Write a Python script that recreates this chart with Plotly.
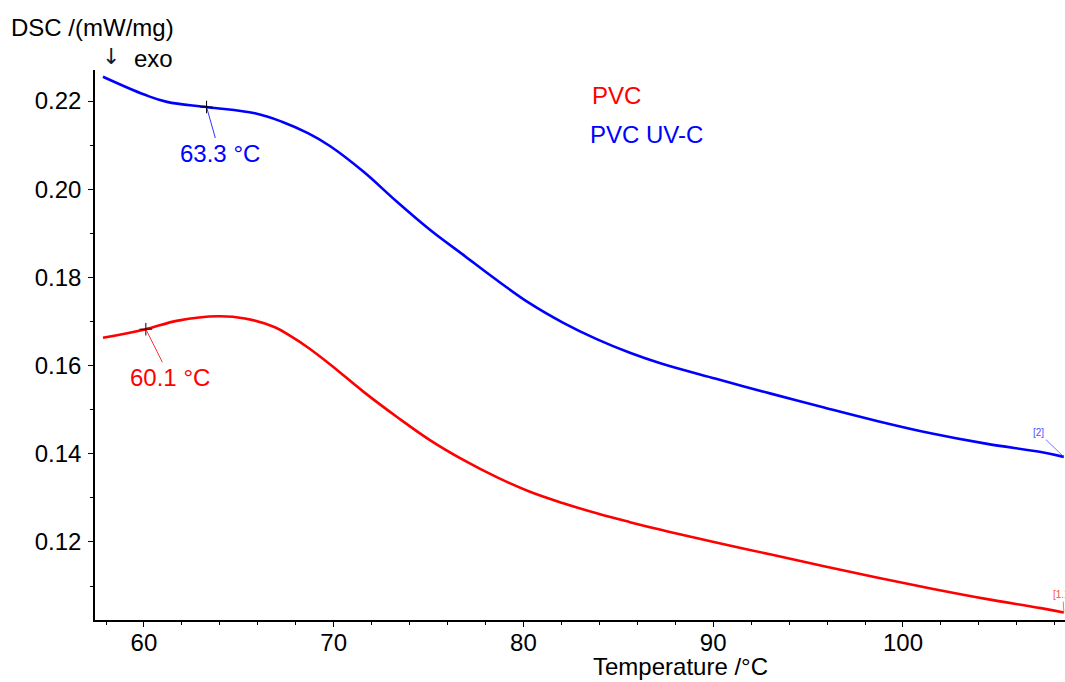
import numpy as np
import plotly.graph_objects as go

# PVC UV-C (blue)
t_uvc = [57.84, 60.05, 61.21, 63.37, 65.85, 67.27, 68.64, 69.80, 71.56, 73.32, 75.07,
         76.83, 78.59, 80.34, 82.10, 83.86, 85.61, 87.30, 90.15, 92.99, 95.84, 98.68,
         101.53, 104.37, 107.27, 108.48]
dsc_uvc = [0.2255, 0.2214, 0.2198, 0.2186, 0.2172, 0.2153, 0.2127, 0.2098, 0.2040, 0.1972,
           0.1908, 0.1851, 0.1794, 0.1741, 0.1697, 0.1660, 0.1629, 0.1604, 0.1570, 0.1537,
           0.1505, 0.1474, 0.1446, 0.1423, 0.1404, 0.1393]

# PVC (red)
t_pvc = [57.84, 60.05, 61.79, 63.90, 65.32, 66.90, 67.80, 68.64, 69.80, 71.56, 73.32, 75.07,
         76.83, 78.59, 80.34, 82.10, 83.86, 85.61, 87.30, 90.15, 92.99, 95.84, 98.68,
         101.53, 104.37, 107.27, 108.48]
dsc_pvc = [0.1663, 0.1682, 0.1702, 0.1712, 0.1707, 0.1687, 0.1665, 0.1641, 0.1603, 0.1541,
           0.1484, 0.1431, 0.1386, 0.1347, 0.1314, 0.1288, 0.1265, 0.1245, 0.1227, 0.1199,
           0.1172, 0.1145, 0.1119, 0.1094, 0.1071, 0.1050, 0.1040]

series_names = ["PVC", "PVC UV-C"]
tg_values = [60.1, 63.3]
x_ticks = [60, 70, 80, 90, 100]
y_ticks = [0.12, 0.14, 0.16, 0.18, 0.20, 0.22]

RED = "#FF0000"
BLUE = "#0000FF"
FONT = "Liberation Sans, Arial, sans-serif"
FS = 24

fig = go.Figure()
fig.add_trace(go.Scatter(x=t_uvc, y=dsc_uvc, mode="lines",
                         line=dict(color=BLUE, width=2.6, shape="spline", smoothing=1.1),
                         name=series_names[1], showlegend=False))
fig.add_trace(go.Scatter(x=t_pvc, y=dsc_pvc, mode="lines",
                         line=dict(color=RED, width=2.6, shape="spline", smoothing=1.1),
                         name=series_names[0], showlegend=False))

# Tg markers
tg_pvc_y = float(np.interp(tg_values[0], t_pvc, dsc_pvc))
tg_uvc_y = float(np.interp(tg_values[1], t_uvc, dsc_uvc))
fig.add_trace(go.Scatter(x=[tg_values[0], tg_values[1]], y=[tg_pvc_y, tg_uvc_y], mode="markers",
                         marker=dict(symbol="cross-thin", size=9, line=dict(color="black", width=1)),
                         showlegend=False, hoverinfo="skip"))

W, H = 1065, 682
ML, MR, MT = 95, 0, 70
MB = H - 620
pw, ph = W - ML - MR, H - MT - MB


def px(xp):
    return (xp - ML) / pw


def py(yp):
    return 1 - (yp - MT) / ph


annotations = [
    dict(x=tg_values[1], y=tg_uvc_y, xref="x", yref="y", text=f"{tg_values[1]} °C",
         showarrow=True, arrowhead=0, arrowwidth=0.8, arrowcolor=BLUE, ax=13, ay=46,
         font=dict(family=FONT, size=FS, color=BLUE)),
    dict(x=tg_values[0], y=tg_pvc_y, xref="x", yref="y", text=f"{tg_values[0]} °C",
         showarrow=True, arrowhead=0, arrowwidth=0.8, arrowcolor=RED, ax=24, ay=48,
         font=dict(family=FONT, size=FS, color=RED)),
    dict(x=t_uvc[-1], y=dsc_uvc[-1], xref="x", yref="y", text="[2]",
         showarrow=True, arrowhead=0, arrowwidth=0.8, arrowcolor="#5050ff", ax=-25, ay=-24,
         font=dict(family=FONT, size=10, color="#5050ff")),
    dict(x=t_pvc[-1], y=dsc_pvc[-1], xref="x", yref="y", text="[1.1]",
         showarrow=True, arrowhead=0, arrowwidth=0.8, arrowcolor="#ff5030", ax=-1, ay=-18,
         font=dict(family=FONT, size=10, color="#ff5030")),
    # legend texts
    dict(x=px(590), y=py(96), xref="paper", yref="paper", text=series_names[0], showarrow=False,
         font=dict(family=FONT, size=FS, color=RED), xanchor="left", yanchor="middle"),
    dict(x=px(588), y=py(134), xref="paper", yref="paper", text=series_names[1], showarrow=False,
         font=dict(family=FONT, size=FS, color=BLUE), xanchor="left", yanchor="middle"),
    # axis titles
    dict(x=px(9), y=py(28), xref="paper", yref="paper", text="DSC /(mW/mg)", showarrow=False,
         font=dict(family=FONT, size=FS, color="black"), xanchor="left", yanchor="middle"),
    dict(x=px(100), y=py(57), xref="paper", yref="paper", text="↓", showarrow=False,
         font=dict(family="DejaVu Sans, sans-serif", size=22, color="#0a1a3a"),
         xanchor="left", yanchor="middle"),
    dict(x=px(132), y=py(59), xref="paper", yref="paper", text="exo", showarrow=False,
         font=dict(family=FONT, size=FS, color="black"), xanchor="left", yanchor="middle"),
    dict(x=px(680), y=py(666), xref="paper", yref="paper", text="Temperature /°C", showarrow=False,
         font=dict(family=FONT, size=FS, color="black"), xanchor="center", yanchor="middle"),
]

fig.update_layout(
    width=W, height=H,
    margin=dict(l=ML, r=MR, t=MT, b=MB),
    paper_bgcolor="white", plot_bgcolor="white",
    font=dict(family=FONT, size=FS, color="black"),
    annotations=annotations,
    hovermode=False,
    xaxis=dict(range=[57.42, 108.54], tickvals=x_ticks, showgrid=False, zeroline=False,
               showline=True, linecolor="black", linewidth=1.5, ticks="outside", ticklen=5,
               tickcolor="black", tickfont=dict(size=FS), ticklabelstandoff=-5,
               minor=dict(dtick=2, ticks="outside", ticklen=3, tickcolor="black")),
    yaxis=dict(range=[0.10231, 0.22703], tickvals=y_ticks, ticktext=[f"{v:.2f}" for v in y_ticks],
               showgrid=False, zeroline=False,
               showline=True, linecolor="black", linewidth=1.5, ticks="outside", ticklen=5,
               tickcolor="black", tickfont=dict(size=FS), ticklabelstandoff=2,
               minor=dict(dtick=0.01, tick0=0.1, ticks="outside", ticklen=3, tickcolor="black")),
)

fig.write_html("out.html", config={"displayModeBar": False},
               post_script="document.body.style.margin='0';document.body.style.overflow='hidden';")
